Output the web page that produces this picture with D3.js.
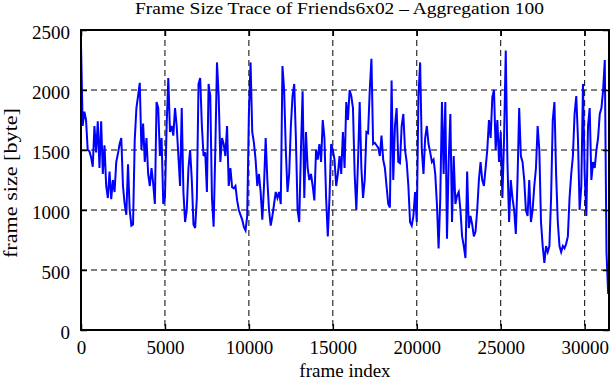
<!DOCTYPE html>
<html>
<head>
<meta charset="utf-8">
<script src="https://cdn.jsdelivr.net/npm/d3@7"></script>
<style>
  body { margin: 0; background: #fff; }
  text { font-family: "Liberation Serif", "Times New Roman", serif; fill: #000; }
  .grid line { stroke: #000; stroke-width: 1; stroke-dasharray: 6,4; }
</style>
</head>
<body>
<svg width="611" height="380"></svg>
<script>
const title = "Frame Size Trace of Friends6x02 \u2013 Aggregation 100";
const xLabel = "frame index";
const yLabel = "frame size [byte]";
const aggregation = 100;
const xTicks = [0, 5000, 10000, 15000, 20000, 25000, 30000];
const yTicks = [0, 500, 1000, 1500, 2000, 2500];

// mean frame size per block of 100 frames
const frameSize = [
    2380,1700,1820,1750,1500,1490,1440,1360,1700,1480,
    1740,1350,1740,1300,1540,1200,1100,1320,1090,1250,
    1150,1400,1470,1550,1600,1200,1050,960,1380,1000,
    870,880,1580,1850,1950,2060,1500,1720,1400,1600,
    1300,1200,1350,1220,1050,1900,1850,1450,1600,1050,
    1100,1700,2100,
    1650,1700,1620,1850,1700,1450,1200,1850,1150,900,
    1000,1350,1500,1250,880,850,1100,2050,2100,1700,
    1450,1480,1150,2050,1950,1100,860,1500,2230,1950,
    1400,1600,1550,1450,1700,1200,1350,1190,1180,1200,
    1080,1000,960,920,860,830,950,1800,2230,1650,
    1560,1420,
    1200,1300,1150,920,1200,1600,1250,1000,870,950,
    1050,1150,1100,1150,1050,2200,2000,1500,1150,1300,
    1700,1950,2050,1600,1000,900,1500,1990,1100,1650,
    1350,1250,1300,1200,1080,1500,1420,1550,1400,1750,
    1600,1100,780,1100,1550,1500,1420,1200,1300,1450,
    1300,1650,
    1350,1900,1750,2000,1950,1850,1300,1000,1400,1900,
    1350,1100,1250,1650,1640,2000,2260,1550,1560,1540,
    1520,1450,1620,1420,1350,1200,1050,1020,2080,1250,
    1700,1850,1400,1390,1700,1800,1500,1400,1200,900,
    870,950,1150,900,1950,2230,1500,1300,1600,1700,
    1550,
    1480,1400,1420,1300,1050,680,1100,1900,1300,1900,
    760,1400,1800,900,1450,1050,1120,1150,1000,780,
    700,600,1320,850,950,880,780,820,1000,1250,
    1400,1250,1200,1350,1500,1750,1600,1940,2000,1500,
    1750,1400,1650,1100,1600,2330,1400,900,1250,1100,
    1000,800,1250,
    1850,1450,1400,1250,1000,950,1250,900,1000,1200,
    1350,1700,1500,900,700,560,700,650,700,1100,
    1750,1900,1300,900,700,650,700,680,720,780,
    1100,1300,1450,1800,1950,1600,1000,1200,2050,1300,
    950,1700,1850,1250,1400,1350,1500,1600,1800,1850,
    2000,2250,650,300
];

async function main() {
    const svg = d3.select("svg");
    const margin = { top: 30, right: 2, bottom: 50, left: 81 };
    const width = +svg.attr("width");
    const height = +svg.attr("height");
    const w = width - margin.left - margin.right;
    const h = height - margin.top - margin.bottom;

    const data = frameSize.map((v, i) => ({ frame: i * aggregation, size: v }));

    const x = d3.scaleLinear().domain([0, 31450]).range([0, w]);
    const y = d3.scaleLinear().domain([0, 2500]).range([h, 0]);

    svg.append("rect").attr("width", width).attr("height", height).attr("fill", "#fff");

    const g = svg.append("g").attr("transform", `translate(${margin.left},${margin.top})`);

    // grid
    const grid = g.append("g").attr("class", "grid");
    grid.selectAll(".vx")
        .data(xTicks.slice(1))
        .enter()
        .append("line")
        .attr("x1", d => x(d)).attr("x2", d => x(d))
        .attr("y1", 0).attr("y2", h);
    grid.selectAll(".hy")
        .data(yTicks.slice(1, -1))
        .enter()
        .append("line")
        .attr("x1", 0).attr("x2", w)
        .attr("y1", d => y(d)).attr("y2", d => y(d));

    // the trace
    const line = d3.line()
        .x(d => x(d.frame))
        .y(d => y(d.size));

    g.append("path")
        .datum(data)
        .attr("fill", "none")
        .attr("stroke", "#0000ff")
        .attr("stroke-width", 2)
        .attr("stroke-linejoin", "miter")
        .attr("d", line);

    // axes, ticks pointing inward
    const xAxis = d3.axisBottom(x).tickValues(xTicks).tickSize(-6).tickPadding(11).tickFormat(d3.format("d"));
    const yAxis = d3.axisLeft(y).tickValues(yTicks).tickSize(-6).tickPadding(11).tickFormat(d3.format("d"));
    const xTop = d3.axisTop(x).tickValues(xTicks).tickSize(-6).tickFormat("");
    const yRight = d3.axisRight(y).tickValues(yTicks).tickSize(-6).tickFormat("");

    const styleAxis = sel => {
        sel.select(".domain").remove();
        sel.selectAll(".tick line").attr("stroke", "#000").attr("stroke-width", 1.5);
        sel.selectAll("text").attr("font-size", 19).attr("fill", "#000")
            .style("font-family", "'Liberation Serif', serif");
    };

    g.append("g").attr("transform", `translate(0,${h})`).call(xAxis).call(styleAxis);
    g.append("g").call(yAxis).call(styleAxis)
        .selectAll("text").attr("dy", "0.45em");
    g.append("g").call(xTop).call(styleAxis);
    g.append("g").attr("transform", `translate(${w},0)`).call(yRight).call(styleAxis);

    // frame
    g.append("rect")
        .attr("width", w).attr("height", h)
        .attr("fill", "none")
        .attr("stroke", "#000")
        .attr("stroke-width", 2);

    // labels
    svg.append("text")
        .attr("x", 135).attr("y", 14)
        .attr("font-size", 17)
        .attr("textLength", 409)
        .attr("lengthAdjust", "spacingAndGlyphs")
        .text(title);

    svg.append("text")
        .attr("x", margin.left + w / 2).attr("y", height - 3)
        .attr("text-anchor", "middle").attr("font-size", 19)
        .text(xLabel);

    svg.append("text")
        .attr("transform", `translate(17,${margin.top + h / 2 + 3}) rotate(-90)`)
        .attr("text-anchor", "middle").attr("font-size", 18)
        .attr("textLength", 150)
        .attr("lengthAdjust", "spacingAndGlyphs")
        .text(yLabel);
}

main();
</script>
</body>
</html>
